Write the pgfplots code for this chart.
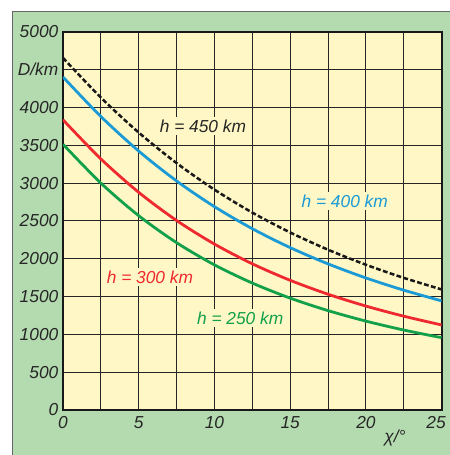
\documentclass[border=0pt]{standalone}
\usepackage{fontspec}
\setmainfont{Liberation Sans}
\usepackage{pgfplots}
\pgfplotsset{compat=1.18}
\usepackage{pgfplotstable}
\definecolor{panelgreen}{HTML}{B4DBAF}
\definecolor{plotyellow}{HTML}{FFF8C6}
\definecolor{cblue}{HTML}{1B9AD6}
\definecolor{cred}{HTML}{EE2A30}
\definecolor{cgreen}{HTML}{13A04A}
\definecolor{textgray}{HTML}{262626}
\pgfplotstableread{
x    h450   h400   h300   h250
0    4654.3 4401.7 3835.9 3512.6
2.5  4129.9 3879.3 3318.7 2999.3
5    3667.4 3422.5 2877.1 2568.2
7.5  3263.5 3027.3 2504.7 2211.5
10   2912.8 2687.5 2193.0 1918.3
12.5 2609.2 2396.2 1932.4 1677.6
15   2346.5 2146.3 1714.1 1478.9
17.5 2118.5 1931.4 1530.1 1313.6
20   1920.1 1745.5 1373.8 1174.8
22.5 1746.4 1583.9 1239.8 1057.0
25   1593.5 1442.4 1124.1  955.8
}\datatable
\begin{document}
\begin{tikzpicture}
\useasboundingbox[fill=white] (-47.25pt,-33.75pt) rectangle (290.25pt,307.5pt);
\fill[panelgreen] (-38.25pt,-33.75pt) rectangle (290.25pt,299.25pt);
\draw[black!60, line width=0.6pt] (-38.25pt,-33.75pt) -- (-38.25pt,299.25pt) -- (290.25pt,299.25pt);
\begin{axis}[
  at={(0,0)}, anchor=south west,
  width=284pt, height=283.7pt, scale only axis,
  xmin=0, xmax=25, ymin=0, ymax=5000,
  axis background/.style={fill=plotyellow},
  xtick={0,2.5,5,7.5,10,12.5,15,17.5,20,22.5,25},
  xticklabels={0,,5,,10,,15,,20,,\makebox[6pt][r]{25}},
  ytick={0,500,1000,1500,2000,2500,3000,3500,4000,4500,5000},
  yticklabels={0,500,1000,1500,2000,2500,3000,3500,4000,D/km,5000},
  grid=major,
  major grid style={black!85, line width=0.8pt},
  major tick length=0pt,
  axis line style={line width=1.3pt, black!90},
  tick label style={font=\fontsize{13}{15}\selectfont\itshape, text=textgray},
  xticklabel style={yshift=-1.5pt},
  clip=true,
]
\addplot[cgreen, line width=2.1pt, smooth] table[x=x, y=h250] {\datatable};
\addplot[cred, line width=2.1pt, smooth] table[x=x, y=h300] {\datatable};
\addplot[cblue, line width=2.1pt, smooth] table[x=x, y=h400] {\datatable};
\addplot[black!90, line width=1.9pt, dash pattern=on 3.6pt off 1.8pt, smooth] table[x=x, y=h450] {\datatable};
\node[fill=plotyellow, inner sep=2pt, text=textgray, font=\fontsize{13}{15}\selectfont\itshape] at (axis cs:9.24,3754) {h = 450 km};
\node[fill=plotyellow, inner sep=2pt, text=cblue, font=\fontsize{13}{15}\selectfont\itshape] at (axis cs:18.6,2762) {h = 400 km};
\node[fill=plotyellow, inner sep=2pt, text=cred, font=\fontsize{13}{15}\selectfont\itshape] at (axis cs:5.74,1758) {h = 300 km};
\node[fill=plotyellow, inner sep=2pt, text=cgreen, font=\fontsize{13}{15}\selectfont\itshape] at (axis cs:11.7,1216) {h = 250 km};
\end{axis}
\node[text=textgray, font=\fontsize{13}{15}\selectfont\itshape] at (249pt,-21pt) {χ/°};
\end{tikzpicture}
\end{document}
